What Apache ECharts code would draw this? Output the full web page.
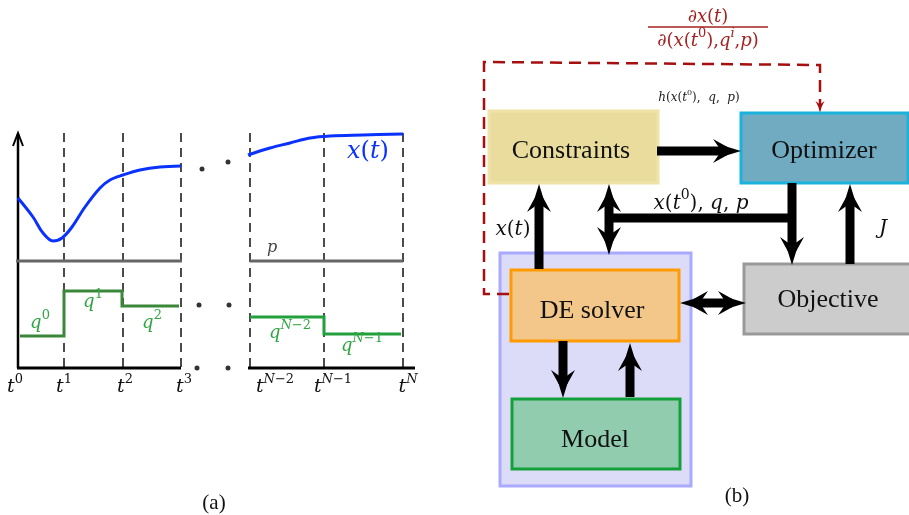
<!DOCTYPE html>
<html><head><meta charset="utf-8">
<script src="https://cdn.jsdelivr.net/npm/echarts@6/dist/echarts.min.js"></script>
<style>html,body{margin:0;padding:0;background:#fff}#c{width:909px;height:515px}</style>
</head><body><div id="c"></div>
<script>
// ================= DATA =================
// ---- panel (a): trajectory sketch (units = diagram units on a 909 x 515 canvas) ----
const guideTimes = [64, 123, 181, 250, 324, 403];            // dashed t^i guides
const guideTop = 133, guideBottom = 368;
const tickLabels = ['t^0', 't^1', 't^2', 't^3', 't^{N−2}', 't^{N−1}', 't^N'];
const tickLabelX = [15, 64, 125, 184, 275, 333, 408];
const tickLabelY = 385;
const stateCurveA = [[18,198],[33,217],[43,233],[53,241],[62,238],[72,227],[85,207],[100,188],[110,180],[123,175],[140,170],[160,167],[181,166]];
const stateCurveB = [[248,155],[270,148],[290,143],[310,138],[330,136],[363,135],[403,134]];
const paramLineA = [[16,261],[182,261]];
const paramLineB = [[250,261],[403,261]];
const controlStepA = [[20,336],[64,336],[64,291],[122,291],[122,306],[179,306]];
const controlStepB = [[250,317],[324,317],[324,334],[401,334]];
const yAxisLine = [[18,368],[18,134]];
const yAxisHead = [[13,146],[18,133],[23,146]];
const xAxisA = [[17,368],[181,368]];
const xAxisB = [[248,368],[415,368]];
const gapDots = [[202,169],[228,162],[199,305],[229,305],[197,368],[228,368]];
const controlLabels = [['q^0',40,321],['q^1',93,300],['q^2',152,321],['q^{N−2}',290,331],['q^{N−1}',362,344]];
const paramLabel = [['p',272,246]];
const stateLabel = [['x(t)',368,149]];
const captionA = [['(a)',214,503]];

// ---- panel (b): workflow diagram ----
const boxNames = ['Constraints', 'Optimizer', 'DE solver', 'Model', 'Objective'];
const boxRects = [[489,111,658,183],[741,113,908,183],[511,270,679,341],[512,399,680,469],[744,264,912,334]];
const boxLabelPos = [[571,151],[824,151],[592,311],[595,440],[828,300]];
const solverContainer = [[500,253,691,486]];
// arrows: x1, y1, x2, y2, head at start (0/1), head at end (0/1)
const arrows = [
  [539,269,539,184,0,1],   // DE solver -> Constraints : x(t)
  [609,255,609,184,1,1],   // Constraints <-> DE solver
  [609,218,796,218,0,0],   // bus x(t0), q, p
  [792,183,792,265,0,1],   // -> Objective
  [850,264,850,184,0,1],   // Objective -> Optimizer : J
  [657,151,741,151,0,1],   // Constraints -> Optimizer
  [680,303,746,303,1,1],   // DE solver <-> Objective
  [563,341,563,398,0,1],   // DE solver -> Model
  [630,397,630,343,0,1]    // Model -> DE solver
];
const sensitivityPath = [[509,294],[484,294],[484,62],[820,65],[820,106]];
const sensitivityHead = [[820,100,820,113,0,1]];
const flowLabels = [['x(t^0), q, p',701,201],['x(t)',513,227],['J',883,226]];
const constraintLabel = [['h(x(t^0),  q,  p)',699,96]];
const fracNumerator = [['∂x(t)',708,15]];
const fracDenominator = [['∂(x(t^0),q^i,p)',708,39]];
const fracBar = [[648,27],[768,27]];
const captionB = [['(b)',737,496]];

// ================= STYLE / HELPERS =================
const SERIF = '"Liberation Serif","DejaVu Serif",serif';
const MATH = '"DejaVu Serif","Liberation Serif",serif';
const boxFill = ['#e9dc9d', '#70abc1', '#f3c789', '#90ccad', '#cccccc'];
const boxStroke = ['#efe3a8', '#1bb3dd', '#ff9a00', '#12a03a', '#999999'];

function mathRich(src, fs, color) {
  const segs = [];
  let i = 0;
  while (i < src.length) {
    const c = src[i];
    if (c === '^') {
      if (src[i + 1] === '{') { const j = src.indexOf('}', i + 2); segs.push({ t: src.slice(i + 2, j), sup: true }); i = j + 1; }
      else { segs.push({ t: src[i + 1], sup: true }); i += 2; }
    } else { segs.push({ t: c, sup: false }); i++; }
  }
  let text = '';
  for (const s of segs) {
    let run = '', runIt = null;
    const flush = () => { if (run) { text += '{' + (s.sup ? 's' : 'b') + (runIt ? 'i' : 'n') + '|' + run + '}'; run = ''; } };
    for (const ch of s.t) {
      const it = /[A-Za-z∂]/.test(ch);
      if (runIt !== null && it !== runIt) flush();
      runIt = it; run += ch;
    }
    flush();
  }
  const sfs = Math.round(fs * 0.7);
  const base = { fontSize: fs, fontFamily: MATH, fill: color, color: color, lineHeight: Math.round(fs * 1.25), verticalAlign: 'bottom' };
  const sup = { fontSize: sfs, fontFamily: MATH, fill: color, color: color, lineHeight: sfs, verticalAlign: 'top' };
  return {
    text,
    rich: {
      bi: Object.assign({}, base, { fontStyle: 'italic' }),
      bn: Object.assign({}, base, { fontStyle: 'normal' }),
      si: Object.assign({}, sup, { fontStyle: 'italic' }),
      sn: Object.assign({}, sup, { fontStyle: 'normal' })
    }
  };
}

function lineSeries(points, color, width, dash, z, smooth) {
  return {
    type: 'line', data: points, symbol: 'none', showSymbol: false, silent: true, animation: false,
    smooth: smooth || false, z: z || 2,
    lineStyle: { color: color, width: width, type: dash || 'solid', cap: 'butt', join: 'miter' }
  };
}

function textSeries(items, fs, color, math, z) {
  return {
    type: 'custom', coordinateSystem: 'cartesian2d', silent: true, animation: false, z: z || 20,
    data: items.map((it, i) => [it[1], it[2], i]),
    renderItem(params, api) {
      const it = items[api.value(2)];
      const p = api.coord([api.value(0), api.value(1)]);
      let style;
      if (math) {
        const m = mathRich(it[0], fs, color);
        style = { text: m.text, rich: m.rich, fill: color, align: 'center', verticalAlign: 'middle' };
      } else {
        style = { text: it[0], fill: color, fontSize: fs, fontFamily: SERIF, align: 'center', verticalAlign: 'middle' };
      }
      return { type: 'text', x: p[0], y: p[1], style: style };
    }
  };
}

function rectSeries(rects, fills, strokes, width, z) {
  return {
    type: 'custom', coordinateSystem: 'cartesian2d', silent: true, animation: false, z: z,
    data: rects.map((r, i) => [r[0], r[1], r[2], r[3], i]),
    renderItem(params, api) {
      const a = api.coord([api.value(0), api.value(1)]);
      const b = api.coord([api.value(2), api.value(3)]);
      const i = api.value(4);
      return {
        type: 'rect',
        shape: { x: Math.min(a[0], b[0]), y: Math.min(a[1], b[1]), width: Math.abs(b[0] - a[0]), height: Math.abs(b[1] - a[1]) },
        style: { fill: fills[i], stroke: strokes[i], lineWidth: width }
      };
    }
  };
}

function arrowSeries(list, color, shaft, headL, headW, z) {
  return {
    type: 'custom', coordinateSystem: 'cartesian2d', silent: true, animation: false, z: z,
    data: list.map(a => a.slice()),
    renderItem(params, api) {
      const a = api.coord([api.value(0), api.value(1)]);
      const b = api.coord([api.value(2), api.value(3)]);
      const hs = api.value(4), he = api.value(5);
      const dx = b[0] - a[0], dy = b[1] - a[1], len = Math.hypot(dx, dy);
      const ux = dx / len, uy = dy / len;
      const L = headL, Wd = headW / 2;
      const s0 = hs ? [a[0] + ux * L * 0.5, a[1] + uy * L * 0.5] : a;
      const s1 = he ? [b[0] - ux * L * 0.5, b[1] - uy * L * 0.5] : b;
      const children = [{
        type: 'line', shape: { x1: s0[0], y1: s0[1], x2: s1[0], y2: s1[1] },
        style: { stroke: color, lineWidth: shaft, lineCap: 'butt' }
      }];
      const head = (tip, vx, vy) => {
        const px = -vy, py = vx;
        const pt = (back, side) => [tip[0] - vx * back + px * side, tip[1] - vy * back + py * side];
        return {
          type: 'polygon',
          shape: { points: [pt(0, 0), pt(0.5 * L, 0.36 * Wd), pt(L, Wd), pt(0.7 * L, 0), pt(L, -Wd), pt(0.5 * L, -0.36 * Wd)] },
          style: { fill: color }
        };
      };
      if (he) children.push(head(b, ux, uy));
      if (hs) children.push(head(a, -ux, -uy));
      return { type: 'group', children: children };
    }
  };
}

// ================= OPTION =================
const series = [];
// panel (a)
guideTimes.forEach(t => series.push(lineSeries([[t, guideTop], [t, guideBottom]], '#111', 1.5, [9, 6], 3)));
series.push(lineSeries(yAxisLine, '#000', 2.5, 'solid', 4));
series.push(lineSeries(yAxisHead, '#000', 2, 'solid', 4));
series.push(lineSeries(xAxisA, '#000', 3, 'solid', 4));
series.push(lineSeries(xAxisB, '#000', 3, 'solid', 4));
series.push(lineSeries(paramLineA, '#666', 3, 'solid', 5));
series.push(lineSeries(paramLineB, '#666', 3, 'solid', 5));
series.push(lineSeries(controlStepA, '#3a873a', 3, 'solid', 5));
series.push(lineSeries(controlStepB, '#22a03c', 3, 'solid', 5));
series.push(lineSeries(stateCurveA, '#0a32ff', 3, 'solid', 6, 0.35));
series.push(lineSeries(stateCurveB, '#0a32ff', 3, 'solid', 6, 0.35));
series.push({ type: 'scatter', data: gapDots, symbolSize: 5, itemStyle: { color: '#000' }, silent: true, animation: false, z: 6 });
series.push(textSeries(tickLabels.map((s, i) => [s, tickLabelX[i], tickLabelY]), 19, '#111', true));
series.push(textSeries(controlLabels, 18, '#2fa540', true));
series.push(textSeries(paramLabel, 16, '#444', true));
series.push(textSeries(stateLabel, 24, '#0a32ff', true));
series.push(textSeries(captionA, 21, '#111', false));
// panel (b)
series.push(rectSeries(solverContainer, ['#dcdcf8'], ['#a9a9ff'], 3, 7));
series.push(lineSeries(sensitivityPath, '#a50f0f', 2.5, [12, 7], 8));
series.push(arrowSeries(sensitivityHead, '#a50f0f', 2, 12, 9, 8));
series.push(rectSeries(boxRects, boxFill, boxStroke, 3, 9));
series.push(textSeries(boxNames.map((n, i) => [n, boxLabelPos[i][0], boxLabelPos[i][1]]), 26, '#111', false));
series.push(arrowSeries(arrows, '#000', 9, 28, 24, 12));
series.push(textSeries(flowLabels, 20, '#111', true));
series.push(textSeries(constraintLabel, 12, '#222', true));
series.push(textSeries(fracNumerator, 18, '#a52222', true));
series.push(textSeries(fracDenominator, 18, '#a52222', true));
series.push(lineSeries(fracBar, '#a52222', 1.5, 'solid', 20));
series.push(textSeries(captionB, 21, '#111', false));

const chart = echarts.init(document.getElementById('c'), null, { renderer: 'canvas' });
chart.setOption({
  animation: false,
  backgroundColor: '#ffffff',
  grid: { left: 0, right: 0, top: 0, bottom: 0, containLabel: false, outerBoundsMode: 'none' },
  xAxis: { type: 'value', min: 0, max: 909, show: false },
  yAxis: { type: 'value', min: 0, max: 515, inverse: true, show: false },
  series: series
});
</script>
</body></html>
